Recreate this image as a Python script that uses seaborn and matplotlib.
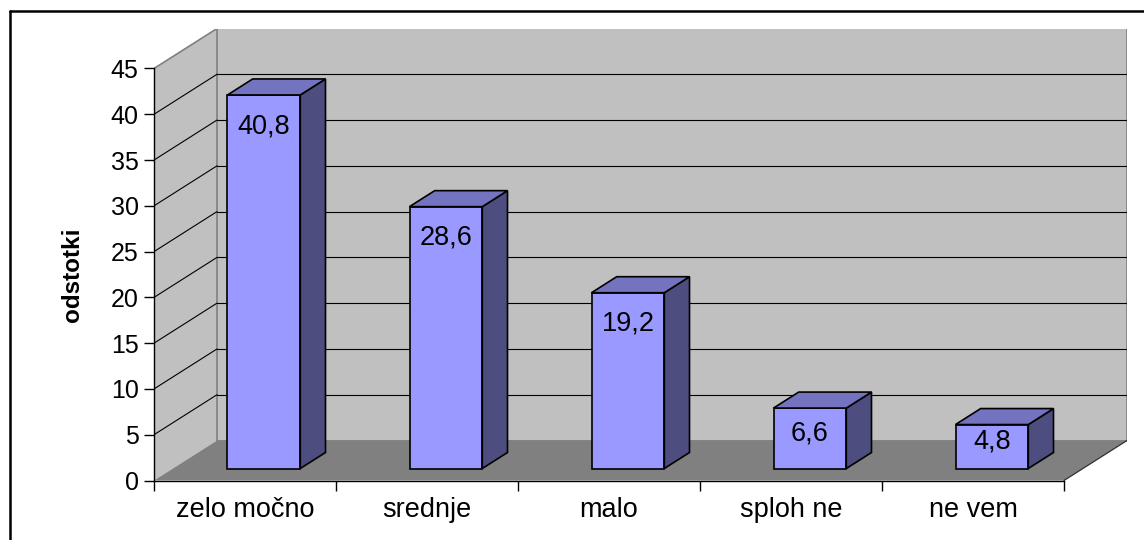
import matplotlib
matplotlib.use('Agg')
import matplotlib.pyplot as plt
import seaborn as sns
import numpy as np
import pandas as pd
from matplotlib.patches import Polygon
from matplotlib.transforms import Affine2D
from matplotlib.lines import Line2D

# ---- data ----
categories = ['zelo močno', 'srednje', 'malo', 'sploh ne', 'ne vem']
values = [40.8, 28.6, 19.2, 6.6, 4.8]
y_ticks = [0, 5, 10, 15, 20, 25, 30, 35, 40, 45]
y_label = 'odstotki'

# ---- style ----
sns.set_theme(style='white')
plt.rcParams['font.family'] = ['Liberation Sans', 'DejaVu Sans']

W, H = 1144, 540
fig = plt.figure(figsize=(W / 100, H / 100), dpi=100)
fig.patch.set_facecolor('white')

YMAX = 45
PX_PER_Y = 412 / 45.0          # pixels per value unit
DEPTH_PX_X, DEPTH_PX_Y = 63, 40
DX = DEPTH_PX_X / 182.0         # depth offset in category units
DY = DEPTH_PX_Y / PX_PER_Y      # depth offset in value units

L, B = 154, 480.5
R = L + 5 * 182 + DEPTH_PX_X
T = B - (YMAX * PX_PER_Y + DEPTH_PX_Y)
ax = fig.add_axes([L / W, 1 - B / H, (R - L) / W, (B - T) / H])
ax.set_facecolor('none')

WALL = '#C0C0C0'
FLOOR = '#808080'
FRONT = '#9999FF'
TOP = '#7373BF'
SIDE = '#4D4D80'

df = pd.DataFrame({'cat': categories, 'val': values})
sns.barplot(data=df, x='cat', y='val', width=0.4, color=FRONT, saturation=1,
            edgecolor='black', linewidth=1.2, ax=ax, zorder=3)
bars = list(ax.patches)

x0, x1 = -0.5, len(categories) - 0.5
ax.set_xlim(x0, x1 + DX)
ax.set_ylim(0, YMAX + DY)

# walls and floor
ax.add_patch(Polygon([(x0, 0), (x0, YMAX), (x0 + DX, YMAX + DY), (x0 + DX, DY)],
                     closed=True, facecolor=WALL, edgecolor='none', zorder=0.1))
ax.add_patch(Polygon([(x0 + DX, DY), (x1 + DX, DY), (x1 + DX, YMAX + DY), (x0 + DX, YMAX + DY)],
                     closed=True, facecolor=WALL, edgecolor=FLOOR, linewidth=1.2, zorder=0.1))
ax.add_patch(Polygon([(x0, 0), (x1, 0), (x1 + DX, DY), (x0 + DX, DY)],
                     closed=True, facecolor=FLOOR, edgecolor='none', zorder=0.15))
ax.add_line(Line2D([x0, x0 + DX], [YMAX, YMAX + DY], color=FLOOR, lw=1.2, zorder=0.2))
ax.add_line(Line2D([x1, x1 + DX], [0, DY], color='#303030', lw=0.9, zorder=0.2))

# gridlines
for yv in y_ticks[1:-1]:
    ax.add_line(Line2D([x0, x0 + DX], [yv, yv + DY], color='black', lw=0.8, zorder=0.3))
    ax.add_line(Line2D([x0 + DX, x1 + DX], [yv + DY, yv + DY], color='black', lw=0.8, zorder=0.3))

# 3D bars
f0, f1 = 0.3, 0.7
for p, v in zip(bars, values):
    p.set_transform(Affine2D().translate(f0 * DX, f0 * DY) + ax.transData)
    bx0 = p.get_x()
    bx1 = bx0 + p.get_width()
    h = p.get_height()
    side = [(bx1 + f0 * DX, f0 * DY), (bx1 + f1 * DX, f1 * DY),
            (bx1 + f1 * DX, h + f1 * DY), (bx1 + f0 * DX, h + f0 * DY)]
    top = [(bx0 + f0 * DX, h + f0 * DY), (bx1 + f0 * DX, h + f0 * DY),
           (bx1 + f1 * DX, h + f1 * DY), (bx0 + f1 * DX, h + f1 * DY)]
    ax.add_patch(Polygon(side, closed=True, facecolor=SIDE, edgecolor='black', lw=1.2, zorder=3))
    ax.add_patch(Polygon(top, closed=True, facecolor=TOP, edgecolor='black', lw=1.2, zorder=3))
    front_top = h + f0 * DY
    front_bot = f0 * DY
    ly = max(front_top - 3.4, (front_top + front_bot) / 2 + 0.57)
    ax.text(bx0 + p.get_width() / 2 + f0 * DX, ly, f'{v:.1f}'.replace('.', ','),
            ha='center', va='center', fontsize=19.5, color='black', zorder=5)

# axes / ticks
for s in ['top', 'right']:
    ax.spines[s].set_visible(False)
for s in ['left', 'bottom']:
    ax.spines[s].set_color('black')
    ax.spines[s].set_linewidth(1.0)
    ax.spines[s].set_zorder(2.5)
ax.spines['left'].set_bounds(0, YMAX)
ax.spines['bottom'].set_bounds(x0, x1)

ax.set_yticks(y_ticks)
ax.set_yticklabels([str(t) for t in y_ticks])
ax.tick_params(axis='y', which='major', left=True, direction='out', length=7, width=1,
               color='black', pad=4, labelsize=18, labelcolor='black')

ax.set_xticks(np.arange(x0, x1 + 0.01, 1.0))
ax.set_xticklabels([''] * (len(categories) + 1))
ax.set_xticks(np.arange(len(categories)), minor=True)
ax.set_xticklabels(categories, minor=True)
ax.tick_params(axis='x', which='major', bottom=True, direction='out', length=7, width=1,
               color='black')
ax.tick_params(axis='x', which='minor', bottom=True, length=0, pad=12, labelsize=19.5,
               labelcolor='black')

ax.set_xlabel('')
ax.set_ylabel(y_label, fontsize=17.5, fontweight='bold', color='black', va='center')
ax.yaxis.set_label_coords((72 - L) / (R - L), (B - 274.5) / (B - T))

# outer frame (top and left visible)
fig.add_artist(Line2D([9.5 / W, 9.5 / W], [1 - 11 / H, 0], transform=fig.transFigure,
                      color='black', lw=1.8))
fig.add_artist(Line2D([9.5 / W, 1], [1 - 11 / H, 1 - 11 / H], transform=fig.transFigure,
                      color='black', lw=1.8))

fig.savefig('out.png', dpi=100, facecolor='white')
